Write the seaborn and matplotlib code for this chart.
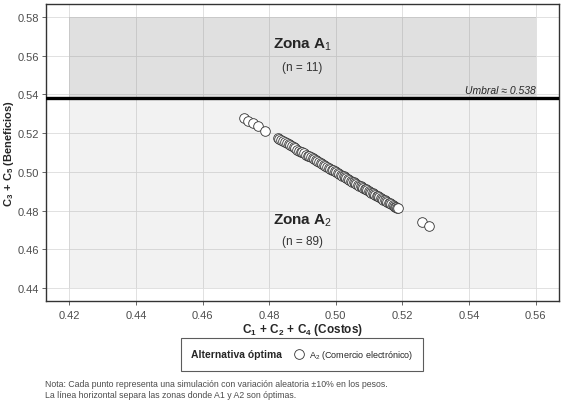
import matplotlib
matplotlib.use("Agg")
import matplotlib.pyplot as plt
from matplotlib.lines import Line2D
import seaborn as sns
import pandas as pd

# costos = C1 + C2 + C4, beneficios = C3 + C5 (cada punto una simulacion)
costos = [
    0.4723, 0.4735, 0.4750, 0.4765, 0.4787,
    0.4825, 0.4830, 0.4836, 0.4841, 0.4847, 0.4853, 0.4858, 0.4863, 0.4869, 0.4874,
    0.4879, 0.4885, 0.4890, 0.4895, 0.4900, 0.4905, 0.4911, 0.4916, 0.4920, 0.4925,
    0.4931, 0.4936, 0.4940, 0.4945, 0.4951, 0.4955, 0.4960, 0.4965, 0.4969, 0.4974,
    0.4979, 0.4983, 0.4988, 0.4992, 0.4997, 0.5001, 0.5006, 0.5010, 0.5015, 0.5019,
    0.5024, 0.5028, 0.5032, 0.5037, 0.5041, 0.5045, 0.5050, 0.5054, 0.5058, 0.5062,
    0.5067, 0.5071, 0.5075, 0.5079, 0.5083, 0.5087, 0.5091, 0.5095, 0.5099, 0.5103,
    0.5107, 0.5111, 0.5115, 0.5119, 0.5123, 0.5127, 0.5131, 0.5135, 0.5139, 0.5143,
    0.5147, 0.5151, 0.5155, 0.5159, 0.5163, 0.5167, 0.5171, 0.5175, 0.5179, 0.5182,
    0.5185, 0.5188,
    0.5258, 0.5280,
]
beneficios = [
    0.5277, 0.5265, 0.5250, 0.5235, 0.5213,
    0.5175, 0.5170, 0.5164, 0.5159, 0.5153, 0.5147, 0.5142, 0.5137, 0.5131, 0.5126,
    0.5121, 0.5115, 0.5110, 0.5105, 0.5100, 0.5095, 0.5089, 0.5084, 0.5080, 0.5075,
    0.5069, 0.5064, 0.5060, 0.5055, 0.5049, 0.5045, 0.5040, 0.5035, 0.5031, 0.5026,
    0.5021, 0.5017, 0.5012, 0.5008, 0.5003, 0.4999, 0.4994, 0.4990, 0.4985, 0.4981,
    0.4976, 0.4972, 0.4968, 0.4963, 0.4959, 0.4955, 0.4950, 0.4946, 0.4942, 0.4938,
    0.4933, 0.4929, 0.4925, 0.4921, 0.4917, 0.4913, 0.4909, 0.4905, 0.4901, 0.4897,
    0.4893, 0.4889, 0.4885, 0.4881, 0.4877, 0.4873, 0.4869, 0.4865, 0.4861, 0.4857,
    0.4853, 0.4849, 0.4845, 0.4841, 0.4837, 0.4833, 0.4829, 0.4825, 0.4821, 0.4818,
    0.4815, 0.4812,
    0.4742, 0.4720,
]
umbral = 0.538
n_a1 = 11
n_a2 = 89
x_ticks = [0.42, 0.44, 0.46, 0.48, 0.50, 0.52, 0.54, 0.56]
y_ticks = [0.44, 0.46, 0.48, 0.50, 0.52, 0.54, 0.56, 0.58]

df = pd.DataFrame({"costos": costos, "beneficios": beneficios})

sns.set_style("white")
fam = ["Liberation Sans", "DejaVu Sans"]
plt.rcParams["font.family"] = fam
plt.rcParams["mathtext.fontset"] = "custom"
plt.rcParams["mathtext.rm"] = "Liberation Sans"
plt.rcParams["mathtext.it"] = "Liberation Sans:italic"
plt.rcParams["mathtext.bf"] = "Liberation Sans:bold"

fig = plt.figure(figsize=(5.67, 4.06), dpi=100)
ax = fig.add_axes([0.0811, 0.2562, 0.9048, 0.7315])

# zonas
ax.fill_between([0.42, 0.56], umbral, 0.58, color="#808080", alpha=0.24, lw=0, zorder=1)
ax.fill_between([0.42, 0.56], 0.44, umbral, color="#808080", alpha=0.10, lw=0, zorder=1)
ax.axhline(umbral, color="black", lw=2.4, zorder=3)

sns.scatterplot(data=df, x="costos", y="beneficios", ax=ax, color="white",
                edgecolor="#333333", linewidth=0.6, s=48, legend=False, zorder=4)

ax.set_xlim(0.413, 0.567)
ax.set_ylim(0.4333, 0.5867)
ax.set_xticks(x_ticks)
ax.set_yticks(y_ticks)
ax.set_xticklabels([f"{v:.2f}" for v in x_ticks])
ax.set_yticklabels([f"{v:.2f}" for v in y_ticks])
ax.grid(True, color="#dcdcdc", lw=0.6, zorder=0)
ax.set_axisbelow(True)
for sp in ax.spines.values():
    sp.set_color("#333333")
    sp.set_linewidth(1.0)
ax.tick_params(axis="both", labelsize=8, colors="#4d4d4d", length=3, width=0.6,
               bottom=True, left=True)
ax.tick_params(axis="y", pad=2)

ax.set_xlabel(r"$\mathbf{C_1\,+\,C_2\,+\,C_4}$ (Costos)", fontsize=8.5, fontweight="bold")
ax.set_ylabel(r"$\mathbf{C_3\,+\,C_5}$ (Beneficios)", fontsize=8, fontweight="bold")
ax.xaxis.set_label_coords(0.5, -0.066)
ax.yaxis.set_label_coords(-0.059, 0.5)

ax.text(0.49, 0.5662, r"$\mathbf{Zona\ A}_{\mathrm{1}}$", ha="center", va="center", fontsize=11)
ax.text(0.49, 0.5542, f"(n = {n_a1})", ha="center", va="center", fontsize=8.5, color="#333333")
ax.text(0.49, 0.4751, r"$\mathbf{Zona\ A}_{\mathrm{2}}$", ha="center", va="center", fontsize=11)
ax.text(0.49, 0.4643, f"(n = {n_a2})", ha="center", va="center", fontsize=8.5, color="#333333")
ax.text(0.56, umbral + 0.0015, f"Umbral ≈ {umbral}", ha="right", va="bottom",
        fontsize=7.5, style="italic")

# leyenda con el titulo a la izquierda
h = Line2D([], [], marker="o", ls="none", markerfacecolor="white",
           markeredgecolor="#333333", markeredgewidth=0.6, markersize=7)
leg = fig.legend([h], [r"$\mathrm{A_2}$ (Comercio electrónico)"], title="Alternativa óptima",
                 loc="center", bbox_to_anchor=(0.533, 0.124), fontsize=6.5,
                 frameon=True, fancybox=False, edgecolor="#333333",
                 borderpad=1.1, handletextpad=0.5, handlelength=1.2)
leg.get_title().set_fontweight("bold")
leg.get_title().set_fontsize(7.5)
leg.get_frame().set_linewidth(0.8)
box = leg.get_children()[0]
title_box = box.get_children()[0]
hpack = box.get_children()[1]
box._children = [hpack]
hpack._children = [title_box] + hpack.get_children()
hpack.sep = 8

fig.text(0.079, 0.052, "Nota: Cada punto representa una simulación con variación aleatoria ±10% en los pesos.",
         fontsize=6.3, color="#4d4d4d", va="center")
fig.text(0.079, 0.025, "La línea horizontal separa las zonas donde A1 y A2 son óptimas.",
         fontsize=6.3, color="#4d4d4d", va="center")

fig.savefig("out.png", dpi=100)
